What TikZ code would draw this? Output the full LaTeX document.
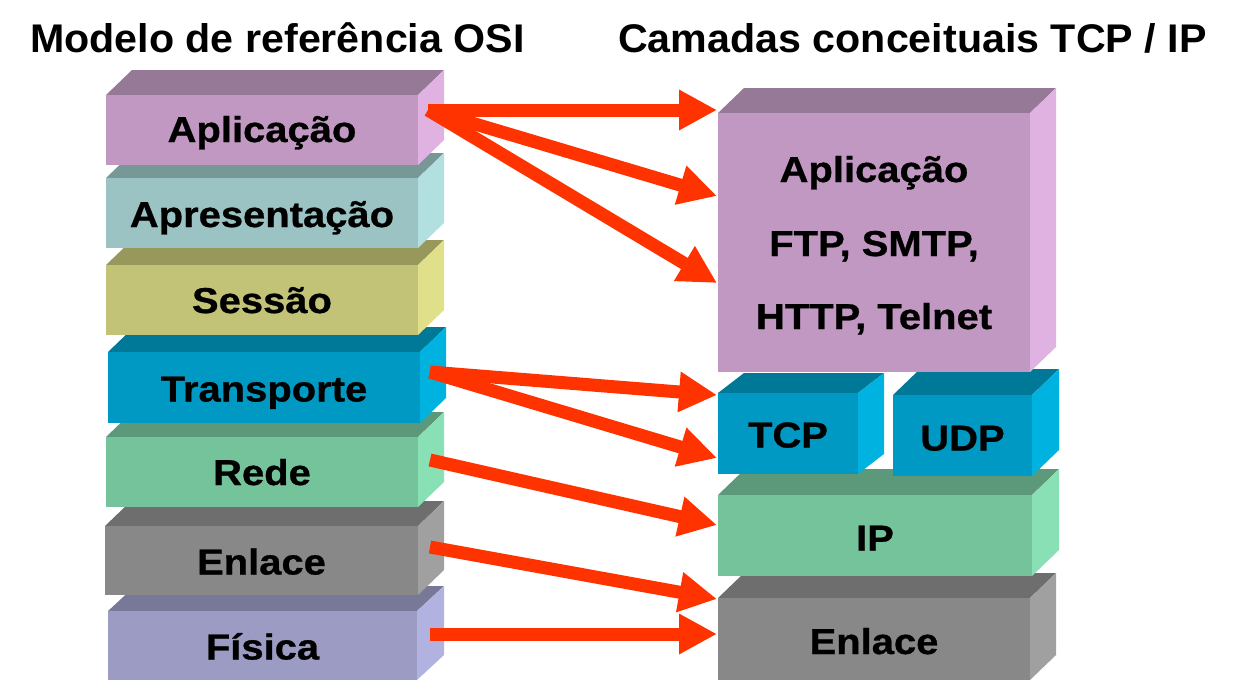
\documentclass[tikz,border=0pt]{standalone}
\usepackage{fontspec}
\setmainfont{Liberation Sans}
\newfontfamily\lblfont{Liberation Sans}[FakeStretch=1.11,FakeBold=0.8]
\newfontfamily\ttlfont{Liberation Sans}[FakeStretch=1.03]
\usetikzlibrary{arrows.meta}
\definecolor{appF}{RGB}{193,152,194}\definecolor{appT}{RGB}{150,121,150}\definecolor{appS}{RGB}{224,178,225}
\definecolor{aprF}{RGB}{155,195,195}\definecolor{aprT}{RGB}{120,152,152}\definecolor{aprS}{RGB}{178,224,224}
\definecolor{sesF}{RGB}{195,195,120}\definecolor{sesT}{RGB}{152,152,92}\definecolor{sesS}{RGB}{224,224,138}
\definecolor{traF}{RGB}{0,153,196}\definecolor{traT}{RGB}{0,121,152}\definecolor{traS}{RGB}{0,178,224}
\definecolor{redF}{RGB}{116,195,155}\definecolor{redT}{RGB}{92,152,122}\definecolor{redS}{RGB}{136,224,180}
\definecolor{enlF}{RGB}{136,136,136}\definecolor{enlT}{RGB}{110,110,110}\definecolor{enlS}{RGB}{160,160,160}
\definecolor{fisF}{RGB}{155,155,195}\definecolor{fisT}{RGB}{120,120,152}\definecolor{fisS}{RGB}{178,178,224}
\definecolor{arrowred}{RGB}{255,51,0}
\newcommand\slab[8]{%
  \fill[#8T] (#2,#3) -- ++(#6,-#7) -- ({#4+#6},{#3-#7}) -- (#4,#3) -- cycle;
  \fill[#8S] (#4,#3) -- ({#4+#6},{#3-#7}) -- ({#4+#6},{#5-#7}) -- (#4,#5) -- cycle;
  \node[face, fill=#8F, minimum width={(#4-#2)*1pt}, minimum height={(#5-#3)*1pt}] (#1) at ({(#2+#4)/2},{(#3+#5)/2}) {};
}
\tikzset{
  lbl/.style={font=\lblfont\bfseries\fontsize{36}{74}\selectfont, anchor=base, inner sep=0pt},
  ttl/.style={font=\ttlfont\bfseries\fontsize{40}{48}\selectfont, anchor=base west, inner sep=0pt},
  face/.style={inner sep=0pt, outer sep=0pt, draw=none},
  link/.style={draw=arrowred, line width=13pt, -{Triangle[length=38pt,width=38pt]}},
}
\begin{document}
\begin{tikzpicture}[x=1pt,y=-1pt]
\useasboundingbox (0,0) rectangle (1234,697);
% titles
\node[ttl] (t1) at (30,52) {Modelo de referência OSI};
\node[ttl] (t2) at (618,52) {Camadas conceituais TCP / IP};
% left stack (bottom first)
\slab{lFis}{108}{611}{417}{680}{27}{25}{fis}
\slab{lEnl}{105}{526}{418}{595}{26}{25}{enl}
\slab{lRed}{106}{437}{418}{507}{26}{25}{red}
\slab{lTra}{108}{352}{420}{423}{26}{25}{tra}
\slab{lSes}{106}{265}{418}{335}{26}{25}{ses}
\slab{lApr}{106}{178}{418}{248}{26}{25}{apr}
\slab{lApp}{106}{95}{418}{165}{26}{25}{app}
% right stack (bottom first)
\slab{rEnl}{718}{598}{1030}{680}{26}{25}{enl}
\slab{rIp}{718}{495}{1032}{576}{27}{26}{red}
\slab{rTcp}{718}{393}{858}{474}{26}{20}{tra}
\slab{rUdp}{893}{395}{1032}{476}{27}{26}{tra}
\slab{rApp}{718}{113}{1030}{372}{26}{25}{app}
% labels
\node[lbl] (lApp-t) at ([yshift=-12pt]lApp.center) {Aplicação};
\node[lbl] (lApr-t) at ([yshift=-14pt]lApr.center) {Apresentação};
\node[lbl] (lSes-t) at ([yshift=-13pt]lSes.center) {Sessão};
\node[lbl] (lTra-t) at ([yshift=-14pt]lTra.center) {Transporte};
\node[lbl] (lRed-t) at ([yshift=-13pt]lRed.center) {Rede};
\node[lbl] (lEnl-t) at ([yshift=-14pt]lEnl.center) {Enlace};
\node[lbl] (lFis-t) at ([yshift=-14pt]lFis.center) {Física};
\node[lbl] (rApp-t1) at ([yshift=60.5pt]rApp.center) {Aplicação};
\node[lbl] (rApp-t2) at ([yshift=-13.5pt]rApp.center) {FTP, SMTP,};
\node[lbl] (rApp-t3) at ([yshift=-86.5pt]rApp.center) {HTTP, Telnet};
\node[lbl] (rTcp-t) at ([yshift=-14pt]rTcp.center) {TCP};
\node[lbl] (rUdp-t) at ([yshift=-15pt]rUdp.center) {UDP};
\node[lbl] (rIp-t) at ([yshift=-15pt]rIp.center) {IP};
\node[lbl] (rEnl-t) at ([yshift=-15pt]rEnl.center) {Enlace};
% arrow end points
\coordinate (oApp) at (428,110);
\coordinate (iApp1) at (717,110);
\coordinate (iApp2) at (717,196);
\coordinate (iApp3) at (717,283);
\coordinate (oTra) at (430,372);
\coordinate (iTcp1) at (717,395);
\coordinate (iTcp2) at (717,458);
\coordinate (oRed) at (430,460);
\coordinate (iIp) at (717,525);
\coordinate (oEnl) at (430,547);
\coordinate (iEnl1) at (717,599);
\coordinate (oFis) at (430,634);
\coordinate (iEnl2) at (717,634);
% arrows
\draw[link] (oApp) -- (iApp1);
\draw[link] (oApp) -- (iApp2);
\draw[link] (oApp) -- (iApp3);
\draw[link] (oTra) -- (iTcp1);
\draw[link] (oTra) -- (iTcp2);
\draw[link] (oRed) -- (iIp);
\draw[link] (oEnl) -- (iEnl1);
\draw[link] (oFis) -- (iEnl2);
\end{tikzpicture}
\end{document}
